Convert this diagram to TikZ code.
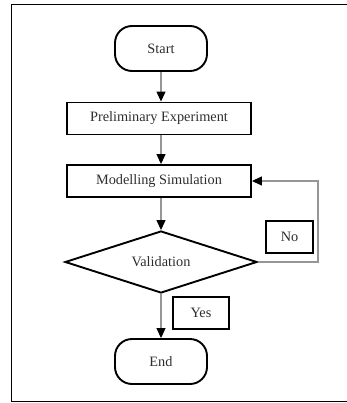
\documentclass[tikz,border=0pt]{standalone}
\usepackage{fontspec}
\setmainfont{Liberation Serif}
\usetikzlibrary{shapes.geometric,arrows.meta}
\definecolor{txt}{RGB}{45,45,45}
\definecolor{linegray}{RGB}{150,150,150}
\begin{document}
\begin{tikzpicture}[x=1pt,y=-1pt,
  every node/.style={font=\fontsize{14.3}{17}\selectfont, text=txt},
  term/.style={draw=black, line width=1.9pt, rounded corners=17pt, minimum width=92pt, minimum height=45pt, inner sep=0pt},
  procbox/.style={draw=black, line width=1.9pt, minimum width=184pt, minimum height=32pt, inner sep=0pt},
  decide/.style={diamond, draw=black, line width=1.9pt, minimum width=192pt, minimum height=62pt, aspect=3, inner sep=0pt},
  tag/.style={draw=black, line width=1.7pt, inner sep=0pt, minimum height=32pt},
  flow/.style={draw=linegray, line width=1.1pt, -{Triangle[length=10pt,width=9pt,color=black]}}
]
\useasboundingbox (0,0) rectangle (346,403);
\draw[line width=1.8pt] (348,4.5) -- (11.5,4.5) -- (11.5,401.5) -- (348,401.5);

\node[term] (start) at (161,48.5) {Start};
\node[procbox] (pe) at (159,118.5) {Preliminary Experiment};
\node[procbox] (ms) at (159,181) {Modelling Simulation};
\node[decide] (val) at (161,262) {Validation};
\node[term] (end) at (161,361.5) {End};
\node[tag, minimum width=47pt] (no) at (289.5,237) {No};
\node[tag, minimum width=56pt] (yes) at (201,313) {Yes};
\coordinate (fb) at (318,0);

\draw[flow] (start.south) -- (start.south |- pe.north);
\draw[flow] (pe.south -| start.south) -- (start.south |- ms.north);
\draw[flow] (ms.south -| start.south) -- (val.north);
\draw[flow] (val.south) -- (end.north);
\draw[flow] (val.east) -- (val.east -| fb) -- (fb |- ms.east) -- (ms.east);
\end{tikzpicture}
\end{document}
